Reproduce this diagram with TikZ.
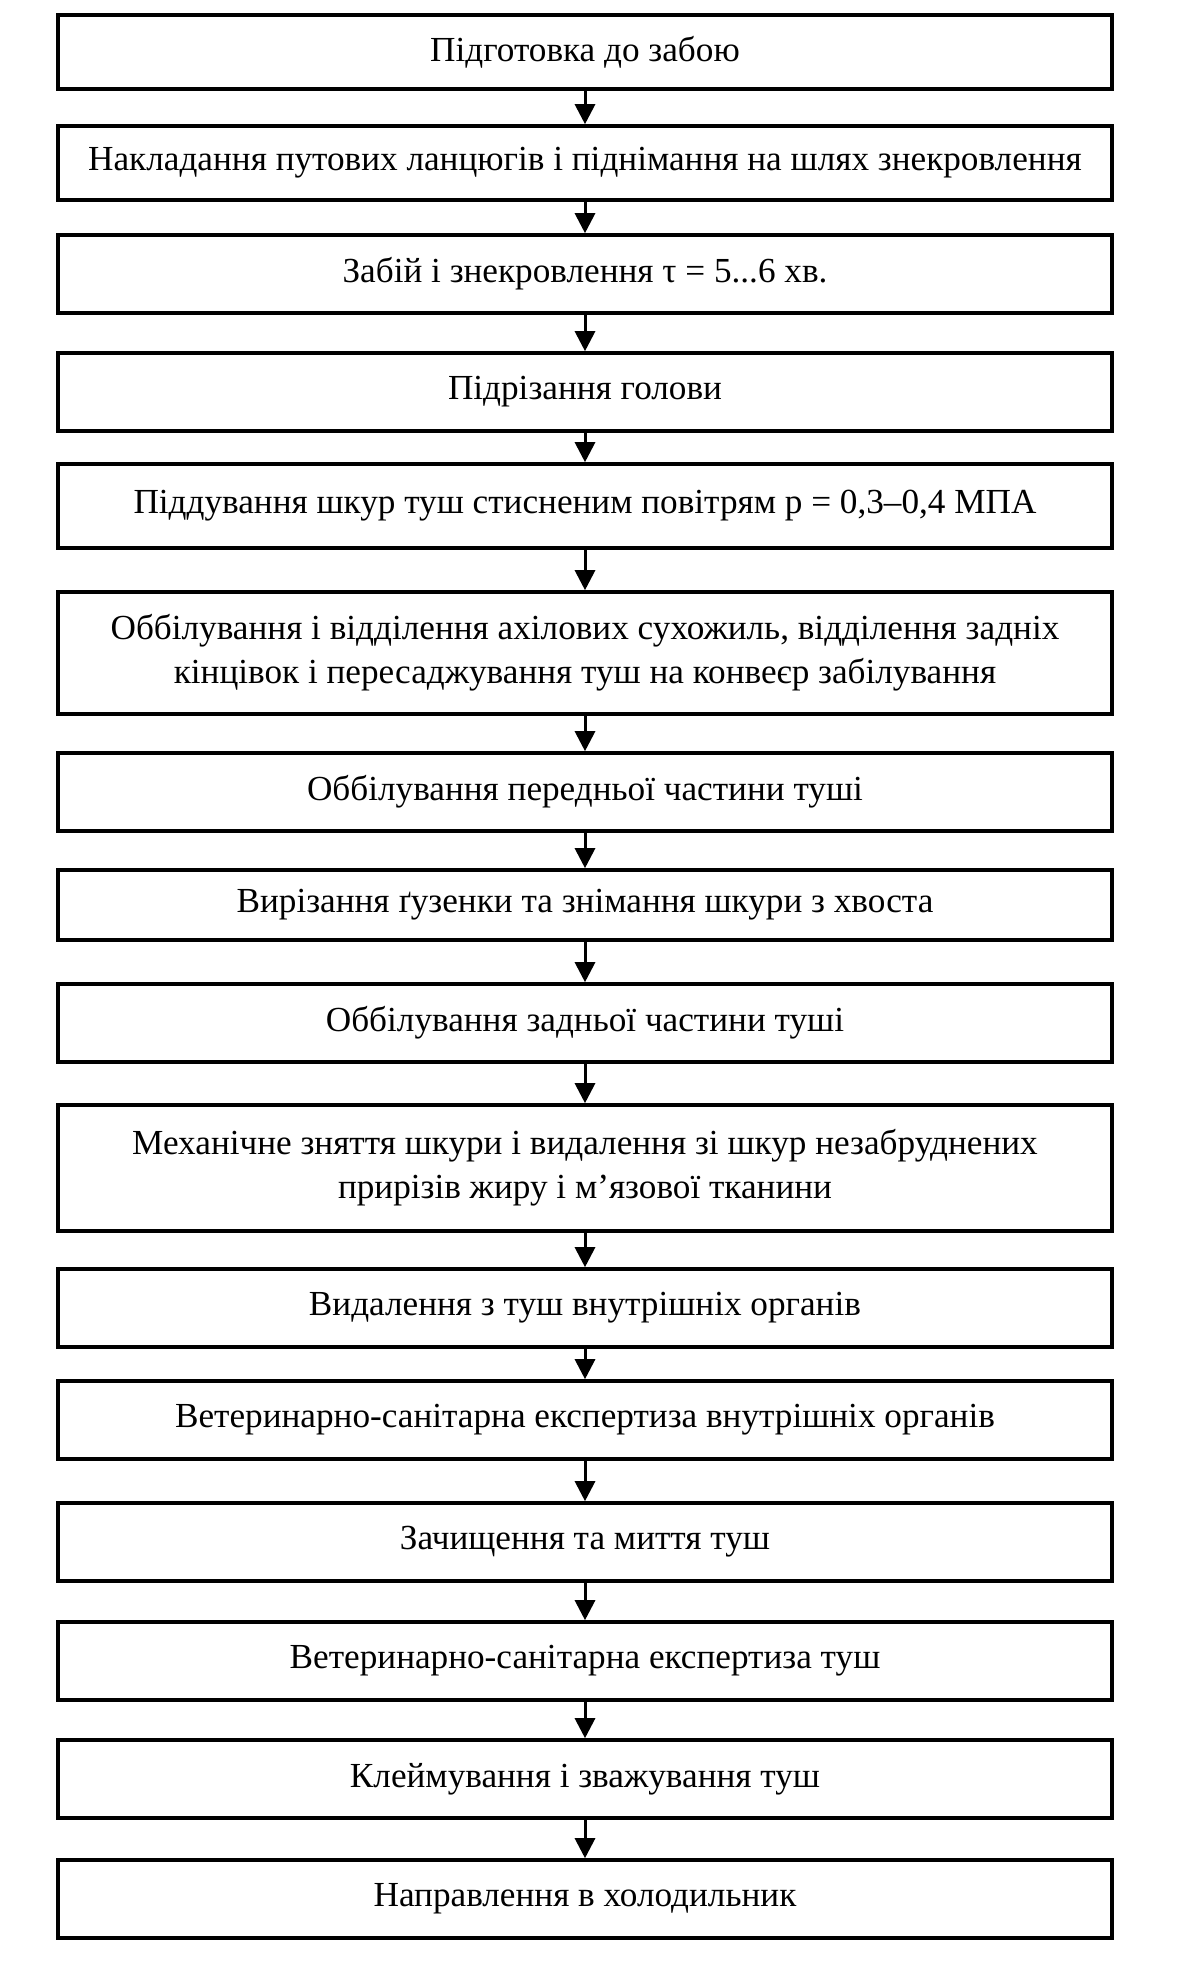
\documentclass[tikz,border=0pt]{standalone}
\usepackage{fontspec}
\setmainfont{Liberation Serif}
\usetikzlibrary{arrows.meta}
\usetikzlibrary{positioning}

\begin{document}
\begin{tikzpicture}[x=0.5pt, y=-0.5pt]
				\tikzstyle{stagenode}=[draw=black, line width=1.8pt, minimum height=39pt, minimum width=527pt, fill=none, text=black, align=center, inner sep=0pt, font=\fontsize{17.6}{22}\selectfont]
				\tikzstyle{tallnode}=[stagenode, minimum height=61pt]
				\tikzstyle{flowarrow}=[-{Triangle[length=10pt, width=10pt]}, line width=1.5pt, black]
				
				\useasboundingbox (0,0) rectangle (1180,1971);
				
				\node (s1)  at (585,52)   [stagenode, minimum height=37pt] {Підготовка до забою};
				\node (s2)  at (585,163)  [stagenode, minimum height=37pt] {Накладання путових ланцюгів і піднімання на шлях знекровлення};
				\node (s3)  at (585,274)  [stagenode] {Забій і знекровлення τ = 5...6 хв.};
				\node (s4)  at (585,392)  [stagenode] {Підрізання голови};
				\node (s5)  at (585,506)  [stagenode, minimum height=42pt] {Піддування шкур туш стисненим повітрям р = 0,3–0,4 МПА};
				\node (s6)  at (585,653)  [tallnode] {Оббілування і відділення ахілових сухожиль, відділення задніх\\кінцівок і пересаджування туш на конвеєр забілування};
				\node (s7)  at (585,792)  [stagenode] {Оббілування передньої частини туші};
				\node (s8)  at (585,905)  [stagenode, minimum height=35pt] {Вирізання ґузенки та знімання шкури з хвоста};
				\node (s9)  at (585,1023) [stagenode] {Оббілування задньої частини туші};
				\node (s10) at (585,1168) [tallnode, minimum height=63pt] {Механічне зняття шкури і видалення зі шкур незабруднених\\прирізів жиру і м’язової тканини};
				\node (s11) at (585,1308) [stagenode] {Видалення з туш внутрішніх органів};
				\node (s12) at (585,1420) [stagenode] {Ветеринарно-санітарна експертиза внутрішніх органів};
				\node (s13) at (585,1542) [stagenode] {Зачищення та миття туш};
				\node (s14) at (585,1661) [stagenode] {Ветеринарно-санітарна експертиза туш};
				\node (s15) at (585,1779) [stagenode] {Клеймування і зважування туш};
				\node (s16) at (585,1899) [stagenode] {Направлення в холодильник};
				
				\draw [flowarrow] (s1) -- (s2);
				\draw [flowarrow] (s2) -- (s3);
				\draw [flowarrow] (s3) -- (s4);
				\draw [flowarrow] (s4) -- (s5);
				\draw [flowarrow] (s5) -- (s6);
				\draw [flowarrow] (s6) -- (s7);
				\draw [flowarrow] (s7) -- (s8);
				\draw [flowarrow] (s8) -- (s9);
				\draw [flowarrow] (s9) -- (s10);
				\draw [flowarrow] (s10) -- (s11);
				\draw [flowarrow] (s11) -- (s12);
				\draw [flowarrow] (s12) -- (s13);
				\draw [flowarrow] (s13) -- (s14);
				\draw [flowarrow] (s14) -- (s15);
				\draw [flowarrow] (s15) -- (s16);
				
				\end{tikzpicture}
\end{document}
